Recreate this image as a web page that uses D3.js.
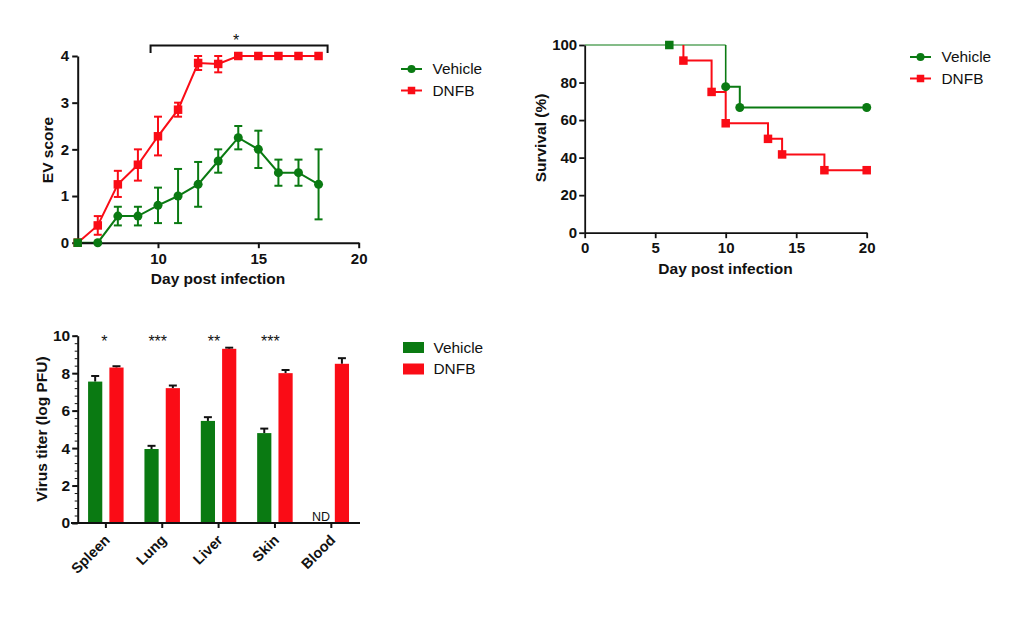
<!DOCTYPE html>
<html><head><meta charset="utf-8">
<script src="https://cdn.jsdelivr.net/npm/d3@7/dist/d3.min.js"></script>
<style>
html,body{margin:0;padding:0;background:#fff}
svg{display:block}
text{font-family:"Liberation Sans",Arial,sans-serif;fill:#111}
.b{font-weight:bold}
</style></head><body>
<svg id="c" width="1024" height="631"></svg>
<script>
const GREEN="#0a7a12", RED="#fa0c16", INK="#111";
const seriesNames=["Vehicle","DNFB"];

// Panel A: EV score
const evDays=[6,7,8,9,10,11,12,13,14,15,16,17,18];
const evVehicle=[0,0,0.57,0.57,0.8,1,1.25,1.75,2.25,2,1.5,1.5,1.25];
const evVehicleLo=[0,0,0.37,0.37,0.42,0.42,0.77,1.5,2,1.6,1.22,1.22,0.5];
const evVehicleHi=[0,0,0.77,0.77,1.18,1.58,1.73,2,2.5,2.4,1.78,1.78,2];
const evDnfb=[0,0.37,1.25,1.67,2.28,2.85,3.85,3.83,4,4,4,4,4];
const evDnfbLo=[0,0.17,0.98,1.33,1.87,2.7,3.7,3.65,4,4,4,4,4];
const evDnfbHi=[0,0.57,1.54,2,2.7,3,4,4,4,4,4,4,4];
const evXTicks=[10,15,20];
const evYTicks=[0,1,2,3,4];

// Panel B: survival
const survVehicleT=[0,10,11,20];
const survVehicle=[100,77.8,66.7,66.7];
const survVehicleMarkT=[10,11,20];
const survDnfbT=[6,7,9,10,13,14,17,20];
const survDnfb=[100,91.7,75,58.3,50,41.7,33.3,33.3];
const survDnfbMarkT=[7,9,10,13,14,17,20];
const survXTicks=[0,5,10,15,20];
const survYTicks=[0,20,40,60,80,100];

// Panel C: virus titer
const organs=["Spleen","Lung","Liver","Skin","Blood"];
const titerVehicle=[7.55,3.95,5.45,4.8,null];
const titerVehicleErr=[0.3,0.17,0.2,0.24,null];
const titerDnfb=[8.3,7.2,9.3,8,8.5];
const titerDnfbErr=[0.07,0.14,0.06,0.17,0.3];
const signif=["*","***","**","***",""];
const titerYTicks=[0,2,4,6,8,10];
const titerMinor=d3.range(0,10.01,0.4);

const svg=d3.select("#c");
const TICK=15, LAB=15.5, MS=8.5, MR=4.5;

function styleAxis(g,w){
  g.selectAll("path,line").attr("stroke",INK).attr("stroke-width",w);
  g.selectAll("text").attr("class","b").attr("font-size",TICK).style("fill",INK);
}
function label(x,y,t,rot){
  const e=svg.append("text").attr("class","b").attr("font-size",LAB).attr("text-anchor","middle");
  if(rot) e.attr("transform",`translate(${x},${y}) rotate(-90)`); else e.attr("x",x).attr("y",y);
  e.text(t);
}
function square(g,x,y,s,c){g.append("rect").attr("x",x-s/2).attr("y",y-s/2).attr("width",s).attr("height",s).attr("fill",c);}
function circle(g,x,y,r,c){g.append("circle").attr("cx",x).attr("cy",y).attr("r",r).attr("fill",c);}
function legend(x,y,kind){
  seriesNames.forEach((n,i)=>{
    const yy=y+i*21.5, c=i?RED:GREEN;
    if(kind==="bar"){
      svg.append("rect").attr("x",x+1).attr("y",yy-5.5).attr("width",21).attr("height",11).attr("fill",c);
    }else{
      svg.append("line").attr("x1",x).attr("x2",x+21).attr("y1",yy).attr("y2",yy).attr("stroke",c).attr("stroke-width",2);
      if(i) square(svg,x+10.5,yy,7.5,c); else circle(svg,x+10.5,yy,4,c);
    }
    svg.append("text").attr("x",x+31.5).attr("y",yy+5.3).attr("font-size",15.4).text(n);
  });
}

// ---------- Panel A
{
  const x=d3.scaleLinear().domain([6,20]).range([77.7,358.7]);
  const y=d3.scaleLinear().domain([0,4]).range([242.7,56]);
  const lineGen=d3.line().x((d,i)=>x(evDays[i])).y(d=>y(d));
  [[evDnfb,evDnfbLo,evDnfbHi,RED,1],[evVehicle,evVehicleLo,evVehicleHi,GREEN,0]].forEach(([v,lo,hi,c,sq])=>{
    const g=svg.append("g");
    g.append("path").attr("d",lineGen(v)).attr("fill","none").attr("stroke",c).attr("stroke-width",2);
    evDays.forEach((d,i)=>{
      if(hi[i]===lo[i]) return;
      const X=x(d);
      g.append("line").attr("x1",X).attr("x2",X).attr("y1",y(lo[i])).attr("y2",y(hi[i])).attr("stroke",c).attr("stroke-width",2);
      [lo[i],hi[i]].forEach(e=>g.append("line").attr("x1",X-4).attr("x2",X+4).attr("y1",y(e)).attr("y2",y(e)).attr("stroke",c).attr("stroke-width",2));
    });
  });
  const ax=svg.append("g").attr("transform","translate(0,242.7)").call(d3.axisBottom(x).tickValues(evXTicks).tickFormat(d3.format("d")).tickSize(5.5).tickPadding(5).tickSizeOuter(0));
  styleAxis(ax,2);
  const ay=svg.append("g").attr("transform","translate(77.7,0)").call(d3.axisLeft(y).tickValues(evYTicks).tickFormat(d3.format("d")).tickSize(5.5).tickPadding(3).tickSizeOuter(0));
  styleAxis(ay,2);
  const gm=svg.append("g");
  evDays.forEach((d,i)=>square(gm,x(d),y(evDnfb[i]),MS,RED));
  evDays.forEach((d,i)=>{ if(i===0) square(gm,x(d),y(evVehicle[i]),MS,GREEN); else circle(gm,x(d),y(evVehicle[i]),MR,GREEN); });
  label(218,284,"Day post infection");
  label(53,150,"EV score",true);
  // significance bracket
  svg.append("path").attr("d",`M${x(9.63)},53 V45.5 H${x(18.45)} V53`).attr("fill","none").attr("stroke",INK).attr("stroke-width",2);
  svg.append("text").attr("x",236).attr("y",46).attr("font-size",16).attr("text-anchor","middle").text("*");
  legend(401,69,"line");
}

// ---------- Panel B
{
  const x=d3.scaleLinear().domain([0,20]).range([584.7,866.7]);
  const y=d3.scaleLinear().domain([0,100]).range([232.7,45]);
  const step=d3.line().curve(d3.curveStepAfter).x(d=>x(d[0])).y(d=>y(d[1]));
  svg.append("path").attr("d",step(survVehicleT.slice(0,2).map((t,i)=>[t,100]))).attr("fill","none").attr("stroke",GREEN).attr("stroke-width",1.2);
  svg.append("path").attr("d",step(d3.zip(survVehicleT.slice(1),survVehicle.slice(1)))).attr("fill","none").attr("stroke",GREEN).attr("stroke-width",2);
  svg.append("line").attr("x1",x(10)).attr("x2",x(10)).attr("y1",y(100)).attr("y2",y(77.8)).attr("stroke",GREEN).attr("stroke-width",1.6);
  svg.append("path").attr("d",step(d3.zip(survDnfbT.slice(1),survDnfb.slice(1)))).attr("fill","none").attr("stroke",RED).attr("stroke-width",2);
  svg.append("line").attr("x1",x(7)).attr("x2",x(7)).attr("y1",y(100)).attr("y2",y(91.7)).attr("stroke",RED).attr("stroke-width",2);
  const ax=svg.append("g").attr("transform","translate(0,232.7)").call(d3.axisBottom(x).tickValues(survXTicks).tickFormat(d3.format("d")).tickSize(5.5).tickPadding(4).tickSizeOuter(0));
  styleAxis(ax,1.8);
  const ay=svg.append("g").attr("transform","translate(584.7,0)").call(d3.axisLeft(y).tickValues(survYTicks).tickSize(5.5).tickPadding(2).tickSizeOuter(0));
  styleAxis(ay,1.8);
  survDnfbT.forEach((t,i)=>{ if(survDnfbMarkT.includes(t)) square(svg,x(t),y(survDnfb[i]),MS,RED); });
  square(svg,x(6),y(100),MS,GREEN);
  survVehicleT.forEach((t,i)=>{ if(survVehicleMarkT.includes(t)) circle(svg,x(t),y(survVehicle[i]),MR,GREEN); });
  label(725.5,273.5,"Day post infection");
  label(546,138,"Survival (%)",true);
  legend(910,57,"line");
}

// ---------- Panel C
{
  const x=d3.scaleBand().domain(organs).range([77.7,359.5]);
  const y=d3.scaleLinear().domain([0,10]).range([523,335.7]);
  const bw=14.2, off=[-10.7,10.6];
  [[titerVehicle,titerVehicleErr,GREEN,0],[titerDnfb,titerDnfbErr,RED,1]].forEach(([v,e,c,k])=>{
    organs.forEach((o,i)=>{
      if(v[i]==null) return;
      const X=x(o)+x.bandwidth()/2+off[k];
      svg.append("line").attr("x1",X).attr("x2",X).attr("y1",y(v[i])).attr("y2",y(v[i]+e[i])).attr("stroke",INK).attr("stroke-width",2);
      svg.append("line").attr("x1",X-4).attr("x2",X+4).attr("y1",y(v[i]+e[i])).attr("y2",y(v[i]+e[i])).attr("stroke",INK).attr("stroke-width",2);
      svg.append("rect").attr("x",X-bw/2).attr("y",y(v[i])).attr("width",bw).attr("height",y(0)-y(v[i])).attr("fill",c);
    });
  });
  const ax=svg.append("g").attr("transform","translate(0,523)").call(d3.axisBottom(x).tickSize(5).tickSizeOuter(0));
  styleAxis(ax,2);
  ax.select("path.domain").attr("d","M71,0H360");
  ax.selectAll("text").attr("font-size",14.5).attr("text-anchor","end").attr("dy",0).attr("y",0).attr("x",0).attr("transform","translate(5,18) rotate(-45)");
  const ay=svg.append("g").attr("transform","translate(77.7,0)").call(d3.axisLeft(y).tickValues(titerYTicks).tickSize(5.5).tickPadding(2).tickSizeOuter(0));
  styleAxis(ay,2);
  ay.selectAll("text").attr("font-size",15.5);
  const minor=svg.append("g").attr("transform","translate(77.7,0)").call(d3.axisLeft(y).tickValues(titerMinor).tickSize(3).tickFormat(""));
  minor.select("path.domain").remove();
  minor.selectAll("line").attr("stroke",INK).attr("stroke-width",1);
  label(47,429,"Virus titer (log PFU)",true);
  organs.forEach((o,i)=>{
    if(signif[i]) svg.append("text").attr("x",x(o)+x.bandwidth()/2+(signif[i].length===1?-1.5:-4.5)).attr("y",347).attr("font-size",16).attr("text-anchor","middle").text(signif[i]);
  });
  svg.append("text").attr("x",321).attr("y",521).attr("font-size",12.5).attr("text-anchor","middle").text("ND");
  legend(402,347.5,"bar");
}
</script>
</body></html>
